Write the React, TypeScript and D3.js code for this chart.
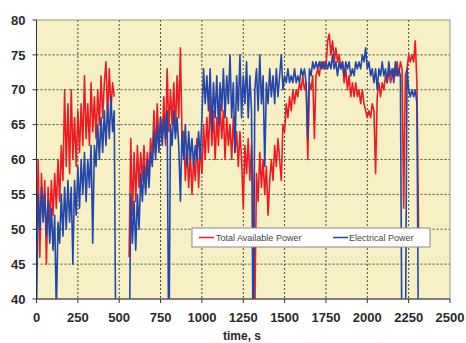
import React from 'react';
import * as d3 from 'd3';

// sample times, one reading every 10 s
const times = d3.range(0, 2320, 10);

// Total Available Power (red)
const totalPower: (number | null)[] = [
  44, 60, 46, 58, 52, 57, 45, 56, 51, 57,
  52, 58, 53, 60, 54, 62, 57, 70, 59, 68,
  58, 70, 60, 66, 59, 67, 61, 68, 62, 72,
  63, 68, 62, 71, 64, 69, 63, 70, 65, 72,
  66, 71, 74, 66, 73, 67, 71, 69, null, null,
  null, null, null, null, null, null, 46, 63, 52, 61,
  54, 62, 56, 61, 57, 62, 56, 61, 58, 63,
  60, 67, 61, 68, 62, 66, 63, 69, 62, 73,
  64, 70, 65, 71, 64, 72, 66, 76, 63, 64,
  57, 62, 56, 61, 55, 60, 57, 63, 56, 62,
  58, 65, 60, 66, 61, 69, 62, 67, 60, 66,
  62, 68, 63, 67, 60, 66, 62, 65, 60, 66,
  61, 64, 59, 64, 60, 53, 62, 58, 63, 57,
  62, 56, 38, 58, 54, 61, 56, 60, 55, 59,
  52, 57, 60, 57, 62, 59, 63, 60, 57, 65,
  64, 68, 66, 69, 67, 70, 68, 70, 69, 71,
  70, 72, 70, 71, 60, 71, 70, 72, 63, 72,
  73, 72, 74, 73, 74, 73, 77, 78, 75, 77,
  74, 76, 74, 75, 73, 74, 71, 73, 70, 72,
  69, 71, 69, 71, 69, 70, 68, 70, 68, 67,
  66, 67, 66, 68, 67, 58, 69, 71, 69, 71,
  70, 72, 71, 73, 71, 72, 73, 72, 74, 72,
  74, 73, 53, 72, 73, 75, 74, 75, 74, 77,
  71, 50,
];

// Electrical Power (blue)
const electricalPower: (number | null)[] = [
  38, 55, 50, 56, 51, 55, 49, 54, 48, 53,
  47, 52, 38, 51, 48, 55, 49, 56, 50, 57,
  51, 56, 45, 57, 52, 59, 53, 60, 55, 61,
  54, 60, 56, 62, 48, 62, 59, 65, 60, 66,
  61, 67, 62, 68, 63, 69, 64, 67, 30, 30,
  30, 30, 30, 30, 30, 30, 30, 55, 48, 54,
  47, 55, 50, 58, 54, 59, 55, 60, 56, 61,
  59, 64, 60, 65, 61, 66, 62, 66, 63, 67,
  30, 65, 62, 67, 63, 66, 62, 54, 64, 60,
  65, 59, 64, 60, 63, 59, 62, 60, 64, 60,
  66, 73, 68, 72, 67, 73, 64, 71, 66, 72,
  65, 71, 67, 73, 66, 72, 68, 75, 66, 71,
  61, 72, 67, 75, 66, 72, 68, 74, 66, 72,
  67, 30, 70, 73, 67, 75, 68, 72, 59, 71,
  68, 73, 69, 72, 68, 73, 69, 72, 75, 70,
  72, 71, 73, 71, 72, 71, 73, 71, 72, 71,
  73, 72, 73, 71, 63, 73, 72, 74, 73, 74,
  73, 74, 73, 74, 73, 74, 73, 74, 73, 75,
  73, 74, 72, 74, 73, 74, 72, 74, 73, 74,
  72, 73, 72, 74, 73, 74, 73, 75, 74, 76,
  73, 74, 72, 73, 71, 73, 70, 73, 72, 74,
  72, 73, 71, 74, 72, 73, 71, 74, 72, 73,
  72, 30, 30, 30, 73, 70, 69, 70, 69, 70,
  68, 30,
];

const xTicks = [0, 250, 500, 750, 1000, 1250, 1500, 1750, 2000, 2250, 2500];
const yTicks = [40, 45, 50, 55, 60, 65, 70, 75, 80];
const seriesNames = ['Total Available Power', 'Electrical Power'];
const seriesColors = ['#ec1c24', '#2346aa'];

const W = 466;
const H = 343;
const left = 36.5;
const right = 450;
const top = 20;
const bottom = 299;

export default function App() {
  const x = d3.scaleLinear().domain([0, 2500]).range([left, right]);
  const y = d3.scaleLinear().domain([40, 80]).range([bottom, top]);

  const makeLine = (vals: (number | null)[]) =>
    d3
      .line<number>()
      .defined((_, i) => vals[i] !== null)
      .x((t) => x(t))
      .y((_, i) => y(vals[i] as number))(times) || '';

  const font = '"Liberation Sans", Arial, sans-serif';

  return (
    <svg
      width={W}
      height={H}
      style={{ position: 'absolute', left: 0, top: 0 }}
      fontFamily={font}
    >
      <defs>
        <clipPath id="plot">
          <rect x={left} y={top} width={right - left} height={bottom - top} />
        </clipPath>
      </defs>
      <rect x={0} y={0} width={W} height={H} fill="#fff" />
      <rect x={left} y={top} width={right - left} height={bottom - top} fill="#f7f0c4" />

      {/* grid */}
      {xTicks.slice(1, -1).map((t) => (
        <line key={'gx' + t} x1={x(t)} x2={x(t)} y1={top} y2={bottom}
          stroke="#4a4a3a" strokeWidth={1} strokeDasharray="2,2" />
      ))}
      {yTicks.slice(1, -1).map((v) => (
        <line key={'gy' + v} x1={left} x2={right} y1={y(v)} y2={y(v)}
          stroke="#4a4a3a" strokeWidth={1} strokeDasharray="2,2" />
      ))}

      {/* series */}
      <g clipPath="url(#plot)" fill="none" strokeLinejoin="round">
        <path d={makeLine(totalPower)} stroke={seriesColors[0]} strokeWidth={1.6} />
        <path d={makeLine(electricalPower)} stroke={seriesColors[1]} strokeWidth={1.6} />
      </g>

      {/* frame */}
      <rect x={left} y={top} width={right - left} height={bottom - top} fill="none" stroke="#9a9a8a" />
      <line x1={left} x2={left} y1={top} y2={bottom} stroke="#333" />
      <line x1={left} x2={right} y1={bottom} y2={bottom} stroke="#333" />

      {/* axes */}
      {yTicks.map((v) => (
        <g key={'ty' + v}>
          <line x1={left - 4} x2={left} y1={y(v)} y2={y(v)} stroke="#333" />
          <text x={left - 11} y={y(v)} dy="0.36em" textAnchor="end" fontSize={13}
            fontWeight="bold" fill="#2a2a2a">{v}</text>
        </g>
      ))}
      {xTicks.map((t) => (
        <g key={'tx' + t}>
          <line x1={x(t)} x2={x(t)} y1={bottom} y2={bottom + 4} stroke="#333" />
          <text x={x(t)} y={bottom + 23} textAnchor="middle" fontSize={13}
            fontWeight="bold" fill="#2a2a2a">{t}</text>
        </g>
      ))}
      <text x={242} y={340} textAnchor="middle" fontSize={12} fontWeight="bold" fill="#2a2a2a">
        time, s
      </text>

      {/* legend */}
      <g>
        <rect x={192} y={228} width={238} height={19} fill="#fff" stroke="#888" />
        <line x1={199} x2={214} y1={237.5} y2={237.5} stroke={seriesColors[0]} strokeWidth={1.5} />
        <text x={216} y={240.5} fontSize={9} fill="#444">{seriesNames[0]}</text>
        <line x1={333} x2={348} y1={237.5} y2={237.5} stroke={seriesColors[1]} strokeWidth={1.5} />
        <text x={349} y={240.5} fontSize={9} fill="#444">{seriesNames[1]}</text>
      </g>
    </svg>
  );
}
